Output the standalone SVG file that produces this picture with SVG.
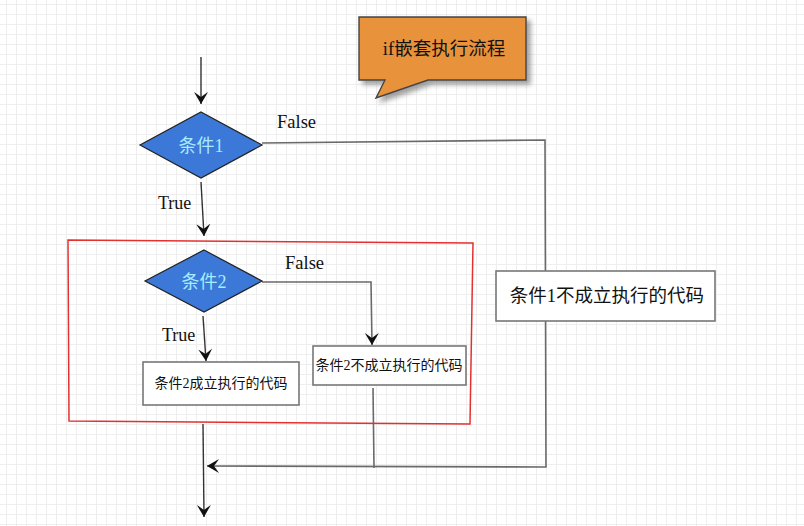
<svg xmlns="http://www.w3.org/2000/svg" width="804" height="526" viewBox="0 0 804 526">
<style>
.lbl{font-family:"Liberation Serif","Noto Sans CJK SC",serif;fill:#111}
.cjk{font-family:"Liberation Serif","Noto Sans CJK SC",serif;fill:#111;text-anchor:middle}
.box{fill:#fff;stroke:#777;stroke-width:1.6}
.dia{fill:#3b78d8;stroke:#222;stroke-width:1.2}
.dtxt{font-family:"Liberation Serif","Noto Sans CJK SC",serif;fill:#a8ecff;font-size:18px;text-anchor:middle}
.con{fill:none;stroke:#333;stroke-width:1.4}
.gray{fill:none;stroke:#6a6a6a;stroke-width:1.6}
</style>
<defs>
<pattern id="grid" x="6" y="4" width="10" height="10" patternUnits="userSpaceOnUse">
<path d="M0.5,0 V10 M0,0.5 H10" stroke="#eeeeee" stroke-width="1" fill="none"/>
</pattern>
<marker id="arr" viewBox="-14 -9 15 18" refX="0" refY="0" markerWidth="15" markerHeight="18" markerUnits="userSpaceOnUse" orient="auto">
<path d="M0,0 L-12,-7 L-11,-5.5 L-7,0 L-11,5.5 L-12,7 z" fill="#111"/>
</marker>
<filter id="sh" x="-10%" y="-10%" width="130%" height="140%">
<feDropShadow dx="4" dy="4" stdDeviation="2.5" flood-color="#777" flood-opacity="0.7"/>
</filter>
</defs>
<rect width="804" height="526" fill="#fff"/>
<rect width="804" height="526" fill="url(#grid)"/>

<g id="callout">
<path d="M359,17 H526 V80 H428 L376,98 L385,80 H359 Z" fill="#e8923a" stroke="#444" stroke-width="1.4" filter="url(#sh)"/>
<text class="cjk" x="444" y="55" font-size="18.5">if嵌套执行流程</text>
</g>

<g id="group-frame">
<polygon points="68,240 473,243 470,424 69,421" fill="none" stroke="#e53030" stroke-width="1.5"/>
</g>

<g id="connectors">
<path class="con" d="M201,57 L201,104" marker-end="url(#arr)"/>
<path class="con" d="M201,182 L204,236" marker-end="url(#arr)"/>
<path class="gray" d="M262,143 L545,140 L546,467 L207,466" marker-end="url(#arr)"/>
<path class="con" d="M203,316 L206,361" marker-end="url(#arr)"/>
<path class="gray" d="M262,282 L371,282 L372,345" marker-end="url(#arr)"/>
<path class="gray" d="M373,388 L374,468"/>
<path class="con" d="M203,424 L204,517" marker-end="url(#arr)"/>
<text class="lbl" x="277" y="128" font-size="18.5">False</text>
<text class="lbl" x="158" y="209" font-size="18">True</text>
<text class="lbl" x="285" y="269" font-size="18.5">False</text>
<text class="lbl" x="162" y="341" font-size="18">True</text>
</g>

<g id="cond1">
<polygon class="dia" points="201,112 262,145 201,178 140,145"/>
<text class="dtxt" x="201" y="152">条件1</text>
</g>

<g id="cond2">
<polygon class="dia" points="204,250 262,281 204,312 145,281"/>
<text class="dtxt" x="204" y="288">条件2</text>
</g>

<g id="else1">
<rect class="box" x="496" y="271" width="219" height="50"/>
<text class="cjk" x="607" y="302" font-size="18.5">条件1不成立执行的代码</text>
</g>

<g id="then2">
<rect class="box" x="143" y="362" width="156" height="43"/>
<text class="cjk" x="221" y="388" font-size="14">条件2成立执行的代码</text>
</g>

<g id="else2">
<rect class="box" x="313" y="346" width="153" height="39"/>
<text class="cjk" x="389" y="370" font-size="14">条件2不成立执行的代码</text>
</g>
</svg>
